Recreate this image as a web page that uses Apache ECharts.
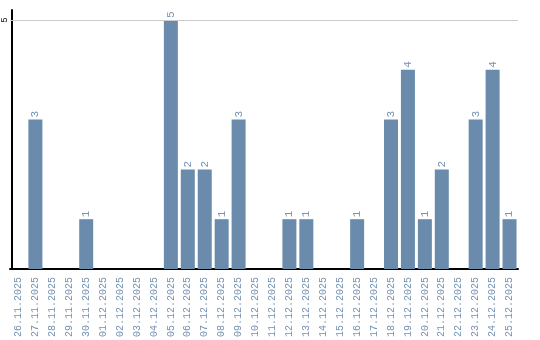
<!DOCTYPE html>
<html><head><meta charset="utf-8">
<script src="https://cdn.jsdelivr.net/npm/echarts@6/dist/echarts.min.js"></script>
<style>html,body{margin:0;padding:0;background:#fff}#c{width:540px;height:340px}</style>
</head><body><div id="c"></div>
<script>
const categories = ['26.11.2025','27.11.2025','28.11.2025','29.11.2025','30.11.2025','01.12.2025','02.12.2025','03.12.2025','04.12.2025','05.12.2025','06.12.2025','07.12.2025','08.12.2025','09.12.2025','10.12.2025','11.12.2025','12.12.2025','13.12.2025','14.12.2025','15.12.2025','16.12.2025','17.12.2025','18.12.2025','19.12.2025','20.12.2025','21.12.2025','22.12.2025','23.12.2025','24.12.2025','25.12.2025'];
const values = [0,3,0,0,1,0,0,0,0,5,2,2,1,3,0,0,1,1,0,0,1,0,3,4,1,2,0,3,4,1];
const yTicks = [5];
const barColor = '#6a8bab';
const textColor = '#7592b2';
const chart = echarts.init(document.getElementById('c'), null, {renderer:'canvas'});
chart.setOption({
  animation:false,
  grid:{left:8,right:22,top:10,bottom:70,containLabel:false},
  xAxis:{type:'category',data:categories,
    axisLine:{lineStyle:{color:'#000',width:2}},
    axisTick:{show:false},
    axisLabel:{rotate:90,interval:0,color:textColor,fontFamily:'Liberation Mono',fontSize:10,margin:8}},
  yAxis:{type:'value',min:0,max:5.2,interval:5,offset:-2,
    axisLine:{show:true,lineStyle:{color:'#000',width:2}},
    axisTick:{show:false},
    splitLine:{show:false},
    axisLabel:{rotate:90,color:'#000',fontFamily:'Liberation Mono',fontSize:9,margin:3,
      formatter:v=>yTicks.includes(v)?String(v):''}},
  series:[{type:'bar',data:values.map(v=>v===0?null:v),barWidth:14,
    itemStyle:{color:barColor},
    label:{show:true,position:'top',rotate:90,distance:2,align:'left',verticalAlign:'middle',
      color:textColor,fontFamily:'Liberation Mono',fontSize:11},
    markLine:{silent:true,symbol:'none',label:{show:false},
      lineStyle:{color:'#cccccc',type:'solid',width:1},
      data:yTicks.map(t=>({yAxis:t}))}
  }]
});
</script></body></html>
